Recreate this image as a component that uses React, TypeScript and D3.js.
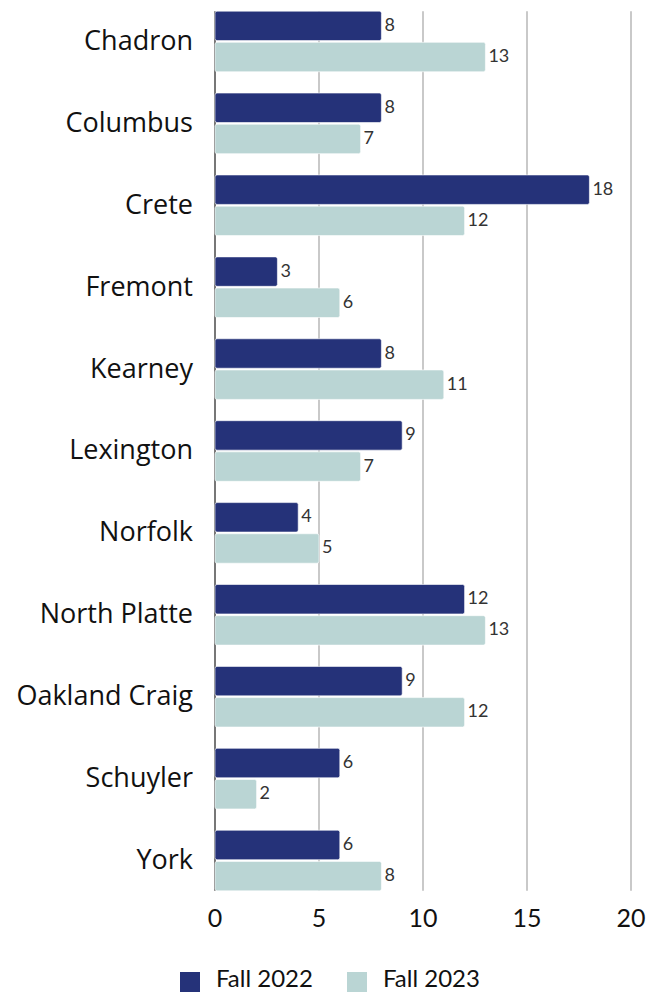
import * as d3 from 'd3';

const categories = ['Chadron', 'Columbus', 'Crete', 'Fremont', 'Kearney', 'Lexington', 'Norfolk', 'North Platte', 'Oakland Craig', 'Schuyler', 'York'];
const fall2022 = [8, 8, 18, 3, 8, 9, 4, 12, 9, 6, 6];
const fall2023 = [13, 7, 12, 6, 11, 7, 5, 13, 12, 2, 8];
const seriesNames = ['Fall 2022', 'Fall 2023'];
const seriesColors = ['#253279', '#bad5d4'];
const xTicks = [0, 5, 10, 15, 20];

const WIDTH = 665;
const HEIGHT = 992;

export default function App() {
  const x = d3.scaleLinear().domain([0, 20]).range([215, 631]);
  const y0 = d3.scaleBand<string>()
    .domain(categories)
    .range([0.5, 901.5])
    .paddingInner(0.26)
    .paddingOuter(0.13);
  const y1 = d3.scaleBand<string>()
    .domain(seriesNames)
    .range([0, y0.bandwidth()])
    .paddingInner(0.055);

  const series = [fall2022, fall2023];
  const gridTop = y0(categories[0]) as number;
  const gridBottom = (y0(categories[categories.length - 1]) as number) + y0.bandwidth();

  return (
    <svg width={WIDTH} height={HEIGHT} style={{ position: 'absolute', left: 0, top: 0, background: '#fff' }}>
      {/* gridlines */}
      {xTicks.filter(t => t > 0).map(t => (
        <line key={t} x1={x(t)} x2={x(t)} y1={gridTop} y2={gridBottom} stroke="#c9c9c9" strokeWidth={2} />
      ))}
      {/* axis line */}
      <line x1={x(0)} x2={x(0)} y1={gridTop} y2={gridBottom} stroke="#777" strokeWidth={2} />

      {categories.map((c, i) => (
        <g key={c} transform={`translate(0,${y0(c)})`}>
          <text
            x={193}
            y={y0.bandwidth() / 2 - 2}
            textAnchor="end"
            dominantBaseline="central"
            fontFamily="Open Sans"
            fontSize={27}
            fill="#111"
          >{c}</text>
          {series.map((vals, s) => {
            const yy = y1(seriesNames[s]) as number;
            return (
              <g key={s}>
                <rect
                  x={x(0)}
                  y={yy}
                  width={x(vals[i]) - x(0)}
                  height={y1.bandwidth()}
                  rx={2}
                  fill={seriesColors[s]}
                  stroke="#fff"
                  strokeWidth={0.6}
                />
                <text
                  x={x(vals[i]) + 3}
                  y={yy + y1.bandwidth() / 2 - 2}
                  dominantBaseline="central"
                  fontFamily="Lato"
                  fontSize={18}
                  fill="#333"
                >{vals[i]}</text>
              </g>
            );
          })}
        </g>
      ))}

      {/* x tick labels */}
      {xTicks.map(t => (
        <text key={t} x={x(t)} y={917} textAnchor="middle" dominantBaseline="central" fontFamily="Lato" fontSize={25} fill="#111">{t}</text>
      ))}

      {/* legend */}
      {seriesNames.map((n, s) => {
        const lx = s === 0 ? 180 : 347;
        return (
          <g key={n}>
            <rect x={lx} y={972} width={20} height={20} fill={seriesColors[s]} />
            <text x={lx + 36} y={977} dominantBaseline="central" fontFamily="Lato" fontSize={24} fill="#111">{n}</text>
          </g>
        );
      })}
    </svg>
  );
}
